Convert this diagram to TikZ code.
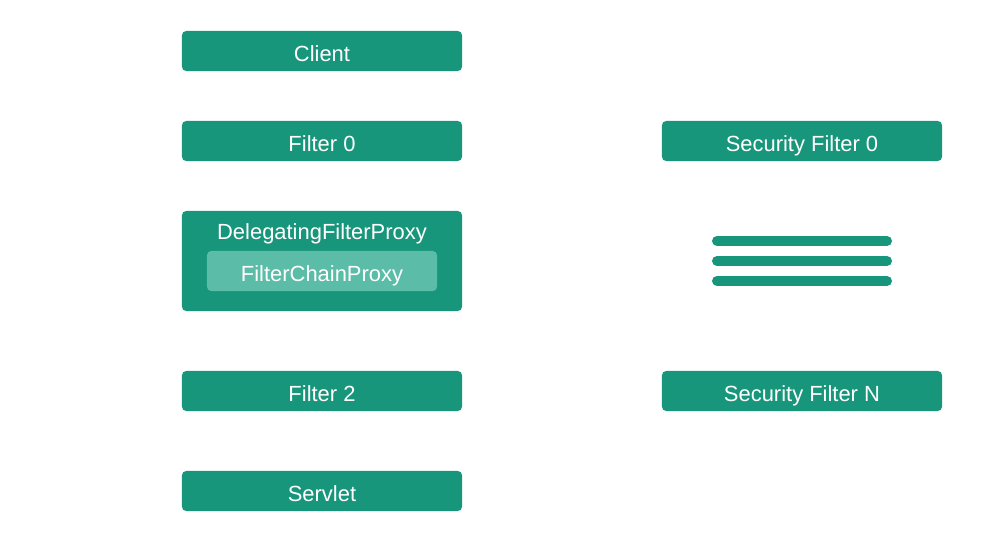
\documentclass[tikz,border=0pt]{standalone}
\usepackage{fontspec}
\setmainfont{Liberation Sans}
\usepackage{tikz}
\usetikzlibrary{positioning}
\definecolor{filtercolor}{RGB}{23,150,124}
\definecolor{chaincolor}{RGB}{91,188,168}

\begin{document}
\begin{tikzpicture}[
    x=0.025cm, y=-0.025cm,
    filterbox/.style={fill=filtercolor, text=white, minimum width=7cm, minimum height=1cm, rounded corners=3pt, inner sep=0pt, text height=15pt, text depth=0pt, font=\fontsize{15.6}{18}\selectfont},
    proxybox/.style={fill=filtercolor, minimum width=7cm, minimum height=2.5cm, rounded corners=3pt, inner sep=0pt},
    chainbox/.style={filterbox, fill=chaincolor, minimum width=5.75cm},
    boxlabel/.style={text=white, inner sep=0pt, text height=15pt, text depth=0pt, font=\fontsize{15.6}{18}\selectfont},
    chainline/.style={line width=0.25cm, filtercolor, line cap=round}
]
    \useasboundingbox (0,0) rectangle (981,559);

    % Servlet filter chain
    \node[filterbox] (client) at (322,51) {Client};
    \node[filterbox] (filter0) at (322,141) {Filter 0};
    \node[proxybox] (proxy) at (322,261) {};
    \node[boxlabel] (proxylabel) at (322,229) {DelegatingFilterProxy};
    \node[chainbox] (chainproxy) at (322,271) {FilterChainProxy};
    \node[filterbox] (filter2) at (322,391) {Filter 2};
    \node[filterbox] (servlet) at (322,491) {Servlet};

    % Security filters
    \node[filterbox] (secfilter0) at (802,141) {Security Filter 0};
    \node[filterbox] (secfilterN) at (802,391) {Security Filter N};

    % More filters
    \foreach \y/\name in {241/more1, 261/more2, 281/more3} {
        \coordinate (\name a) at (717,\y);
        \coordinate (\name b) at (887,\y);
        \draw[chainline] (\name a) -- (\name b);
    }
\end{tikzpicture}
\end{document}
